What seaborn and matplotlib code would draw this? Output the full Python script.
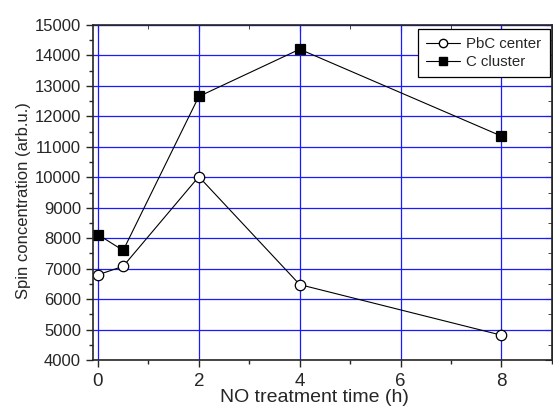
import numpy as np
import pandas as pd
import seaborn as sns
from matplotlib import pyplot as plt
from matplotlib.ticker import MultipleLocator

time_h = [0, 0.5, 2, 4, 8]
pbc_center = [6800, 7080, 10020, 6480, 4820]
c_cluster = [8120, 7600, 12650, 14200, 11350]

df = pd.DataFrame({
    "time": time_h * 2,
    "spin": pbc_center + c_cluster,
    "series": ["PbC center"] * 5 + ["C cluster"] * 5,
})

sns.set_style("ticks")
plt.rcParams["font.family"] = ["Liberation Sans", "DejaVu Sans"]

fig = plt.figure(figsize=(5.53, 4.07), dpi=100)
ax = fig.add_axes([0.168, 0.115, 0.83, 0.824])

sns.lineplot(data=df, x="time", y="spin", hue="series", style="series",
             markers={"PbC center": "o", "C cluster": "s"},
             dashes=False, palette={"PbC center": "black", "C cluster": "black"},
             lw=0.8, ax=ax, legend=False)
# open circles, filled squares
for line, face in zip(ax.lines, ["white", "black"]):
    line.set_markerfacecolor(face)
    line.set_markeredgecolor("black")
    line.set_markersize(7.5)
    line.set_markeredgewidth(0.9)

ax.set_xlim(-0.1, 9)
ax.set_ylim(4000, 15000)
ax.xaxis.set_major_locator(MultipleLocator(2))
ax.xaxis.set_minor_locator(MultipleLocator(1))
ax.yaxis.set_major_locator(MultipleLocator(1000))
ax.yaxis.set_minor_locator(MultipleLocator(500))

ax.grid(True, which="major", color="#1a1aff", lw=0.9)
ax.set_axisbelow(True)

ax.tick_params(which="both", direction="out", top=False, right=False)
ax.tick_params(axis="y", labelsize=12)
ax.tick_params(axis="x", labelsize=13.5, pad=4)
ax.tick_params(which="major", length=5, width=1)
ax.tick_params(which="minor", length=3, width=1)
for s in ax.spines.values():
    s.set_linewidth(1.2)

# inward ticks on top and right
ax2 = ax.secondary_xaxis("top")
ax2.xaxis.set_major_locator(MultipleLocator(2))
ax2.xaxis.set_minor_locator(MultipleLocator(1))
ax2.tick_params(which="both", direction="in", labeltop=False)
ax2.tick_params(which="major", length=5)
ax2.tick_params(which="minor", length=3)
ay2 = ax.secondary_yaxis("right")
ay2.yaxis.set_major_locator(MultipleLocator(1000))
ay2.yaxis.set_minor_locator(MultipleLocator(500))
ay2.tick_params(which="both", direction="in", labelright=False)
ay2.tick_params(which="major", length=5)
ay2.tick_params(which="minor", length=3)

ax.set_xlabel("NO treatment time (h)", fontsize=14, labelpad=-3)
ax.xaxis.set_label_coords(0.482, -0.085)
ax.set_ylabel("Spin concentration (arb.u.)", fontsize=12)
ax.yaxis.set_label_coords(-0.135, 0.475)

handles = [
    plt.Line2D([], [], color="black", lw=0.8, marker="o", markersize=6,
               markerfacecolor="white", markeredgecolor="black"),
    plt.Line2D([], [], color="black", lw=0.8, marker="s", markersize=6,
               markerfacecolor="black", markeredgecolor="black"),
]
leg = ax.legend(handles, ["PbC center", "C cluster"], loc="upper left",
                bbox_to_anchor=(0.708, 0.988), fontsize=10.8, frameon=True,
                fancybox=False, framealpha=1, edgecolor="black",
                handlelength=2.27, handletextpad=0.4, borderpad=0.55,
                labelspacing=0.27, borderaxespad=0)
leg.get_frame().set_linewidth(0.9)

fig.savefig("out.png", dpi=100)
